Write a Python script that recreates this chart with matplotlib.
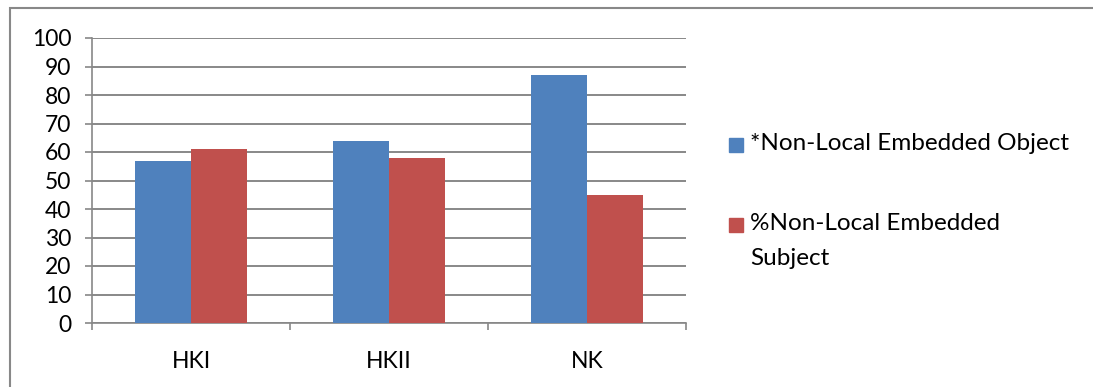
import matplotlib.pyplot as plt
import numpy as np
from matplotlib.patches import Rectangle

# Chart data
categories = ['HKI', 'HKII', 'NK']
series_names = ['*Non-Local Embedded Object', '%Non-Local Embedded\nSubject']
object_vals = [57, 64, 87]
subject_vals = [61, 58, 45]
colors = ['#4F81BD', '#C0504D']

plt.rcParams['font.family'] = ['Lato', 'DejaVu Sans']
FS = 16.5

fig = plt.figure(figsize=(10.93, 3.87), dpi=100)
W, H = 1093, 387
ax = fig.add_axes([92 / W, 1 - 323 / H, (686 - 92) / W, (323 - 38) / H])

x = np.arange(len(categories))
w = 0.285
ax.bar(x - w / 2, object_vals, w, color=colors[0], zorder=3)
ax.bar(x + w / 2, subject_vals, w, color=colors[1], zorder=3)

ax.set_xlim(-0.5, 2.5)
ax.set_ylim(0, 100)
ax.set_yticks(range(0, 101, 10))
ax.yaxis.grid(True, color='#888888', linewidth=1.4, zorder=0)
ax.set_axisbelow(True)

for s in ['top', 'right']:
    ax.spines[s].set_visible(False)
for s in ['left', 'bottom']:
    ax.spines[s].set_color('#888888')
    ax.spines[s].set_linewidth(1.2)

# category ticks at boundaries, labels centered
ax.set_xticks([-0.5, 0.5, 1.5, 2.5])
ax.set_xticklabels([])
ax.set_xticks(x, minor=True)
ax.set_xticklabels(categories, minor=True, fontsize=FS)
ax.tick_params(axis='x', which='major', length=5, color='#888888', width=1.2)
ax.tick_params(axis='x', which='minor', length=0, pad=20)
ax.tick_params(axis='y', length=5, color='#888888', width=1.2, labelsize=FS, pad=10)

# legend, drawn by hand so the square lines up with the first text line
legend_y = [145, 225]
for c, name, yy in zip(colors, series_names, legend_y):
    fig.patches.append(Rectangle((729 / W, 1 - (yy + 7) / H), 14 / W, 14 / H,
                                 transform=fig.transFigure, color=c))
    fig.text(750 / W, 1 - (yy - 12) / H, name, fontsize=17.5, va='top', ha='left',
             linespacing=1.8)

# outer chart border (top and left visible)
fig.patches.append(Rectangle((10 / W, -0.1), 1.2, 1 - 8 / H + 0.1, transform=fig.transFigure,
                             fill=False, edgecolor='#888888', linewidth=1.5))

fig.savefig('out.png', dpi=100)
